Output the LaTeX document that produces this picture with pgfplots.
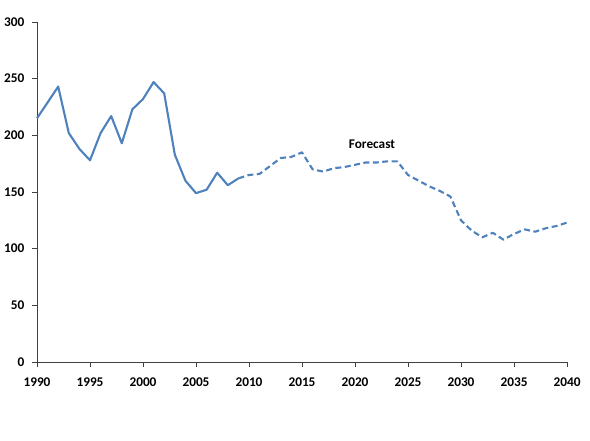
\documentclass[border=0pt]{standalone}
\usepackage{fontspec}
\setmainfont{Carlito}
\usepackage{pgfplots}
\pgfplotsset{compat=1.18}
\definecolor{lineblue}{RGB}{79,129,189}
\begin{document}
\begin{tikzpicture}[x=1pt,y=1pt]
\path[use as bounding box] (0,0) rectangle (590,440);
\begin{axis}[
  at={(37pt,78pt)}, anchor=south west,
  scale only axis, width=530pt, height=340pt,
  xmin=1990, xmax=2040, ymin=0, ymax=300,
  xtick={1990,1995,...,2040}, ytick={0,50,...,300},
  axis x line*=bottom, axis y line*=left,
  axis line style={draw=black!75, line width=0.8pt},
  tick style={draw=black!75, line width=0.8pt},
  tick align=outside, major tick length=5pt,
  ticklabel style={font=\fontsize{13.3}{15}\selectfont\bfseries},
  xticklabel style={yshift=-7pt},
  yticklabel style={xshift=-4pt},
  /pgf/number format/1000 sep={},
  /pgf/number format/assume math mode=true,
  clip=false,
]
% historical series
\addplot[lineblue, line width=2.1pt, line join=round] coordinates {
 (1990,215) (1991,229) (1992,243) (1993,202) (1994,188) (1995,178)
 (1996,202) (1997,217) (1998,193) (1999,223) (2000,232) (2001,247)
 (2002,237) (2003,183) (2004,160) (2005,149) (2006,152) (2007,167)
 (2008,156) (2009,162)
};
% projected series
\addplot[lineblue, line width=2.1pt, line join=round, dash pattern=on 6pt off 3.5pt] coordinates {
 (2009,162) (2010,165) (2011,166) (2012,173) (2013,180) (2014,181)
 (2015,185) (2016,170) (2017,168) (2018,171) (2019,172) (2020,174)
 (2021,176) (2022,176) (2023,177) (2024,177) (2025,165) (2026,160)
 (2027,155) (2028,151) (2029,146) (2030,125) (2031,116) (2032,110)
 (2033,114) (2034,108) (2035,113) (2036,117) (2037,115) (2038,118)
 (2039,120) (2040,123)
};
\node[font=\fontsize{13.3}{15}\selectfont\bfseries] at (axis cs:2021.6,192) {Forecast};
\end{axis}
\end{tikzpicture}
\end{document}
